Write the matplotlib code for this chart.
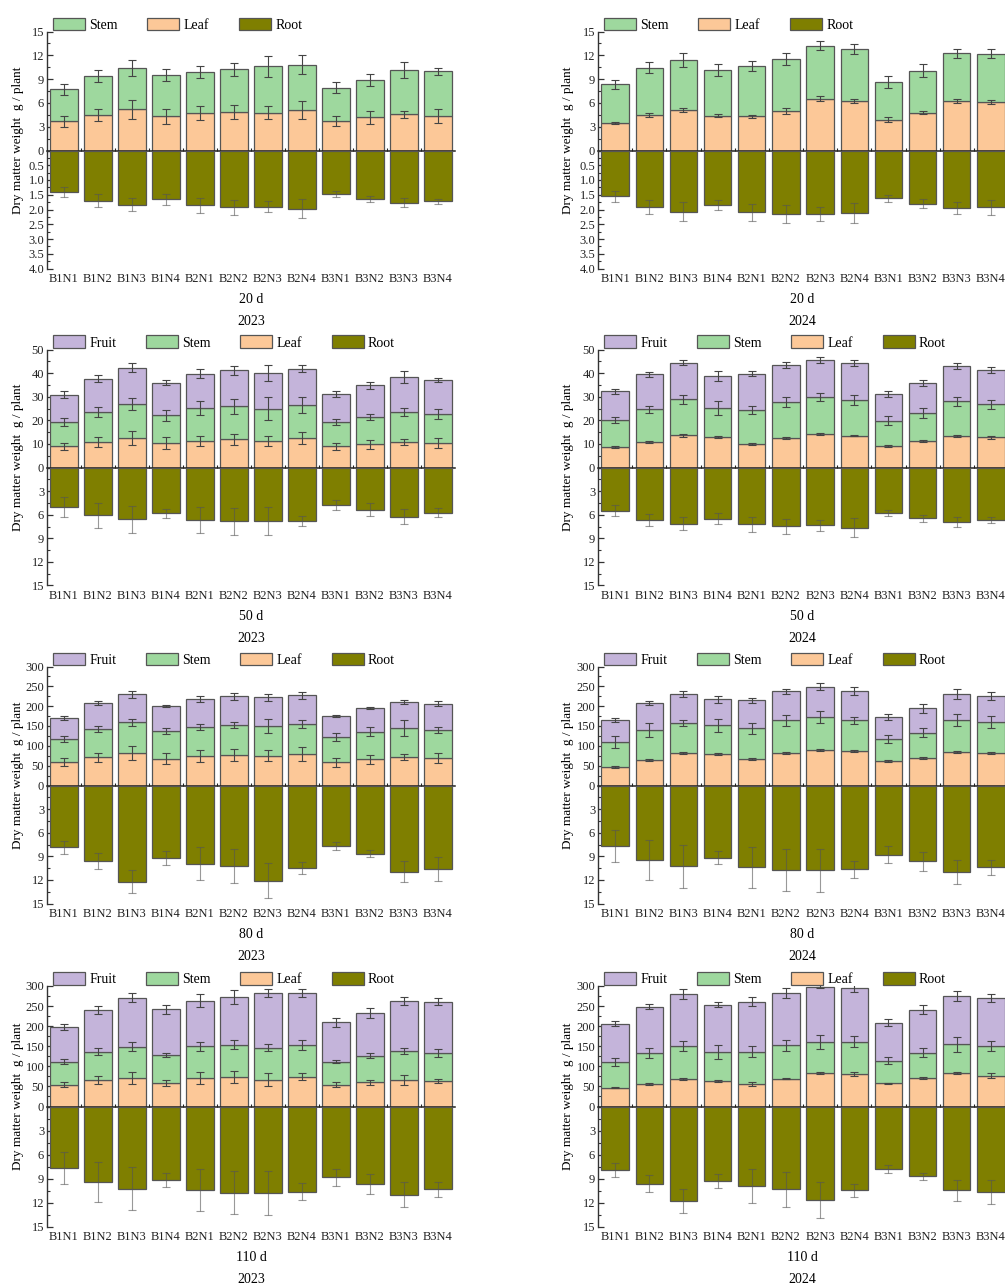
import matplotlib
matplotlib.use('Agg')
import matplotlib.pyplot as plt
from matplotlib.patches import Patch
from matplotlib.ticker import MultipleLocator, FixedLocator
import numpy as np

plt.rcParams['font.family'] = ['Liberation Serif', 'DejaVu Serif']

treatments = ['B1N1', 'B1N2', 'B1N3', 'B1N4', 'B2N1', 'B2N2', 'B2N3', 'B2N4',
              'B3N1', 'B3N2', 'B3N3', 'B3N4']

# ---------------- 2023, 20 d ----------------
leaf_2023_20 = [3.66, 4.50, 5.17, 4.29, 4.70, 4.87, 4.75, 5.08, 3.74, 4.16, 4.54, 4.33]
leaf_err_2023_20 = [0.69, 0.78, 1.20, 0.95, 0.88, 0.92, 0.80, 1.10, 0.67, 0.76, 0.44, 0.88]
stem_2023_20 = [4.07, 4.87, 5.25, 5.21, 5.22, 5.38, 5.84, 5.72, 4.16, 4.71, 5.63, 5.67]
stem_err_2023_20 = [0.69, 0.78, 1.03, 0.78, 0.76, 0.80, 1.37, 1.22, 0.69, 0.76, 0.97, 0.46]
root_2023_20 = [1.40, 1.70, 1.84, 1.66, 1.86, 1.92, 1.90, 1.97, 1.48, 1.65, 1.77, 1.72]
root_err_2023_20 = [0.17, 0.21, 0.22, 0.19, 0.26, 0.25, 0.18, 0.32, 0.11, 0.11, 0.16, 0.08]

# ---------------- 2024, 20 d ----------------
leaf_2024_20 = [3.46, 4.47, 5.14, 4.38, 4.30, 4.97, 6.53, 6.24, 3.88, 4.76, 6.24, 6.07]
leaf_err_2024_20 = [0.13, 0.30, 0.27, 0.21, 0.21, 0.34, 0.32, 0.30, 0.30, 0.19, 0.27, 0.27]
stem_2024_20 = [4.88, 5.98, 6.28, 5.78, 6.32, 6.58, 6.70, 6.57, 4.76, 5.31, 6.02, 6.15]
stem_err_2024_20 = [0.59, 0.67, 0.93, 0.76, 0.63, 0.74, 0.53, 0.65, 0.76, 0.82, 0.59, 0.61]
root_2024_20 = [1.55, 1.92, 2.07, 1.85, 2.10, 2.16, 2.14, 2.13, 1.62, 1.80, 1.95, 1.92]
root_err_2024_20 = [0.19, 0.23, 0.31, 0.17, 0.30, 0.30, 0.24, 0.34, 0.12, 0.14, 0.19, 0.25]

# ---------------- 2023, 50 d ----------------
leaf_2023_50 = [8.95, 10.80, 12.50, 10.23, 11.36, 11.93, 11.36, 12.36, 8.95, 9.94, 10.94, 10.51]
leaf_err_2023_50 = [1.49, 1.92, 2.90, 2.50, 2.10, 2.20, 2.06, 2.60, 1.56, 1.92, 1.20, 2.10]
stem_2023_50 = [10.23, 12.64, 14.35, 11.93, 13.78, 13.92, 13.64, 14.06, 10.23, 11.65, 12.50, 12.22]
stem_err_2023_50 = [1.70, 2.00, 2.40, 2.30, 2.84, 3.05, 4.90, 3.30, 1.28, 1.28, 1.70, 2.27]
fruit_2023_50 = [11.64, 14.20, 15.34, 13.78, 14.63, 15.34, 15.06, 15.48, 11.92, 13.21, 14.91, 14.34]
fruit_err_2023_50 = [1.56, 1.49, 1.92, 1.14, 2.00, 2.00, 3.50, 1.49, 1.35, 1.35, 2.63, 1.00]
root_2023_50 = [4.97, 6.04, 6.60, 5.83, 6.69, 6.86, 6.86, 6.82, 4.76, 5.36, 6.24, 5.74]
root_err_2023_50 = [1.26, 1.59, 1.71, 0.56, 1.65, 1.74, 1.78, 0.64, 0.69, 0.81, 0.96, 0.60]

# ---------------- 2024, 50 d ----------------
leaf_2024_50 = [8.68, 10.78, 13.59, 12.89, 9.94, 12.46, 14.15, 13.45, 9.10, 11.20, 13.30, 12.75]
leaf_err_2024_50 = [0.56, 0.30, 0.50, 0.50, 0.30, 0.50, 0.40, 0.30, 0.40, 0.50, 0.40, 0.50]
stem_2024_50 = [11.49, 13.87, 15.26, 12.18, 14.43, 15.13, 15.68, 15.12, 10.79, 11.91, 14.71, 14.00]
stem_err_2024_50 = [1.26, 1.54, 1.75, 3.00, 1.75, 2.10, 1.68, 2.24, 1.96, 2.10, 2.00, 1.90]
fruit_2024_50 = [12.18, 14.85, 15.55, 13.73, 15.41, 15.83, 15.83, 15.83, 11.34, 12.60, 14.99, 14.57]
fruit_err_2024_50 = [1.10, 1.10, 1.00, 2.00, 1.05, 1.20, 1.26, 1.33, 1.33, 1.33, 1.47, 1.26]
root_2024_50 = [5.48, 6.62, 7.12, 6.49, 7.21, 7.46, 7.37, 7.63, 5.73, 6.45, 6.95, 6.70]
root_err_2024_50 = [0.70, 0.76, 0.88, 0.70, 0.93, 0.97, 0.72, 1.18, 0.38, 0.44, 0.63, 0.36]

# ---------------- 2023, 80 d ----------------
leaf_2023_80 = [58.7, 71.2, 81.3, 67.9, 74.6, 77.1, 75.4, 79.6, 58.7, 66.2, 72.1, 68.7]
leaf_err_2023_80 = [10.5, 11.7, 18.0, 13.8, 14.2, 14.7, 13.8, 16.8, 10.9, 11.3, 6.7, 12.6]
stem_2023_80 = [58.6, 71.3, 78.0, 69.6, 72.9, 75.5, 74.6, 74.6, 62.8, 69.6, 72.9, 71.3]
stem_err_2023_80 = [7.1, 8.4, 8.4, 7.1, 6.7, 6.7, 17.6, 10.5, 10.5, 11.7, 19.7, 7.5]
fruit_2023_80 = [52.9, 65.4, 71.2, 62.0, 69.6, 72.0, 72.1, 73.0, 53.7, 59.5, 65.4, 66.2]
fruit_err_2023_80 = [4.2, 5.9, 8.8, 2.5, 7.5, 8.0, 9.2, 8.4, 2.1, 2.5, 5.4, 6.7]
root_2023_80 = [7.88, 9.63, 12.23, 9.25, 9.93, 10.27, 12.10, 10.48, 7.71, 8.65, 10.95, 10.65]
root_err_2023_80 = [0.83, 1.00, 1.47, 0.87, 2.09, 2.15, 2.24, 0.77, 0.47, 0.45, 1.34, 1.51]

# ---------------- 2024, 80 d ----------------
leaf_2024_80 = [46.9, 63.7, 81.3, 78.8, 67.1, 83.0, 89.7, 88.0, 61.2, 69.6, 85.5, 81.3]
leaf_err_2024_80 = [1.7, 2.5, 2.5, 2.5, 2.5, 2.5, 2.5, 2.5, 2.5, 2.5, 2.5, 2.5]
stem_2024_80 = [62.9, 76.3, 75.4, 72.9, 77.1, 81.3, 83.0, 76.3, 56.2, 62.8, 78.8, 78.8]
stem_err_2024_80 = [14.7, 18.4, 7.5, 15.9, 14.2, 13.8, 15.5, 9.6, 10.1, 11.3, 15.5, 15.5]
fruit_2024_80 = [56.2, 68.7, 73.8, 66.2, 70.4, 72.9, 76.2, 73.7, 55.3, 62.1, 66.2, 65.4]
fruit_err_2024_80 = [5.0, 5.4, 8.4, 8.8, 6.7, 6.3, 8.8, 9.2, 7.5, 10.5, 12.6, 9.2]
root_2024_80 = [7.73, 9.45, 10.29, 9.16, 10.42, 10.76, 10.76, 10.63, 8.82, 9.66, 10.97, 10.38]
root_err_2024_80 = [2.02, 2.50, 2.71, 0.88, 2.63, 2.69, 2.75, 1.09, 1.09, 1.26, 1.53, 0.97]

# ---------------- 2023, 110 d ----------------
leaf_2023_110 = [54.2, 66.7, 70.8, 59.2, 71.7, 74.2, 66.7, 74.2, 54.2, 60.0, 66.7, 64.2]
leaf_err_2023_110 = [6.7, 9.6, 14.2, 7.1, 14.6, 15.4, 16.7, 8.3, 5.8, 6.7, 12.9, 5.0]
stem_2023_110 = [57.5, 70.0, 77.5, 68.3, 78.3, 80.0, 80.0, 79.1, 57.5, 66.7, 71.6, 69.1]
stem_err_2023_110 = [6.7, 7.9, 11.3, 5.0, 11.3, 12.1, 9.2, 11.7, 3.8, 5.4, 6.7, 10.0]
fruit_2023_110 = [85.8, 104.1, 122.5, 114.2, 113.3, 118.3, 135.8, 129.2, 97.5, 106.6, 124.2, 127.5]
fruit_err_2023_110 = [7.1, 10.0, 11.7, 12.1, 16.3, 17.1, 10.0, 10.0, 11.3, 12.1, 10.8, 8.3]
root_2023_110 = [7.71, 9.46, 10.29, 9.17, 10.38, 10.79, 10.79, 10.63, 8.83, 9.71, 11.00, 10.33]
root_err_2023_110 = [2.02, 2.50, 2.69, 0.88, 2.63, 2.67, 2.73, 1.06, 1.06, 1.25, 1.54, 0.94]

# ---------------- 2024, 110 d ----------------
leaf_2024_110 = [47.2, 55.5, 67.9, 64.6, 55.5, 69.6, 82.9, 80.4, 58.0, 71.3, 82.9, 77.1]
leaf_err_2024_110 = [1.5, 2.0, 2.0, 2.5, 4.6, 2.0, 2.5, 4.6, 1.0, 2.5, 2.5, 5.4]
stem_2024_110 = [63.0, 77.1, 82.0, 70.4, 81.2, 82.8, 77.0, 81.2, 55.5, 62.9, 72.0, 72.8]
stem_err_2024_110 = [9.5, 12.8, 12.0, 17.4, 12.8, 13.3, 17.4, 12.8, 8.7, 10.4, 18.6, 12.4]
fruit_2024_110 = [96.1, 116.0, 129.3, 118.5, 124.3, 130.1, 138.1, 134.2, 95.3, 106.9, 121.0, 119.4]
fruit_err_2024_110 = [5.8, 6.6, 12.8, 6.2, 11.2, 11.6, 4.0, 9.5, 7.9, 10.4, 12.4, 9.9]
root_2024_110 = [7.96, 9.66, 11.81, 9.32, 9.95, 10.32, 11.73, 10.48, 7.79, 8.70, 10.48, 10.69]
root_err_2024_110 = [0.87, 1.04, 1.49, 0.87, 2.11, 2.18, 2.24, 0.79, 0.48, 0.44, 1.31, 1.53]

# ---------------- styling ----------------
C_FRUIT = '#C4B4DA'
C_STEM = '#9ED89E'
C_LEAF = '#FCC898'
C_ROOT = '#7F7F00'
EDGE = '#555555'
AXC = '#333333'

W, H = 1005, 1288
fig = plt.figure(figsize=(W / 100, H / 100), dpi=100)

col_x = [(47, 455), (598, 1008)]
row_y = [(31.5, 150.5, 268.5), (349.5, 467.5, 585.5),
         (666.5, 785.5, 903.5), (986.0, 1106.5, 1226.5)]

panels = [
    dict(row=0, col=0, year='2023', day='20 d', leaf=leaf_2023_20, leaf_err=leaf_err_2023_20,
         stem=stem_2023_20, stem_err=stem_err_2023_20, fruit=None, fruit_err=None,
         root=root_2023_20, root_err=root_err_2023_20, tmax=15, tstep=3, bmax=4.0, bstep=0.5),
    dict(row=0, col=1, year='2024', day='20 d', leaf=leaf_2024_20, leaf_err=leaf_err_2024_20,
         stem=stem_2024_20, stem_err=stem_err_2024_20, fruit=None, fruit_err=None,
         root=root_2024_20, root_err=root_err_2024_20, tmax=15, tstep=3, bmax=4.0, bstep=0.5),
    dict(row=1, col=0, year='2023', day='50 d', leaf=leaf_2023_50, leaf_err=leaf_err_2023_50,
         stem=stem_2023_50, stem_err=stem_err_2023_50, fruit=fruit_2023_50, fruit_err=fruit_err_2023_50,
         root=root_2023_50, root_err=root_err_2023_50, tmax=50, tstep=10, bmax=15, bstep=3),
    dict(row=1, col=1, year='2024', day='50 d', leaf=leaf_2024_50, leaf_err=leaf_err_2024_50,
         stem=stem_2024_50, stem_err=stem_err_2024_50, fruit=fruit_2024_50, fruit_err=fruit_err_2024_50,
         root=root_2024_50, root_err=root_err_2024_50, tmax=50, tstep=10, bmax=15, bstep=3),
    dict(row=2, col=0, year='2023', day='80 d', leaf=leaf_2023_80, leaf_err=leaf_err_2023_80,
         stem=stem_2023_80, stem_err=stem_err_2023_80, fruit=fruit_2023_80, fruit_err=fruit_err_2023_80,
         root=root_2023_80, root_err=root_err_2023_80, tmax=300, tstep=50, bmax=15, bstep=3),
    dict(row=2, col=1, year='2024', day='80 d', leaf=leaf_2024_80, leaf_err=leaf_err_2024_80,
         stem=stem_2024_80, stem_err=stem_err_2024_80, fruit=fruit_2024_80, fruit_err=fruit_err_2024_80,
         root=root_2024_80, root_err=root_err_2024_80, tmax=300, tstep=50, bmax=15, bstep=3),
    dict(row=3, col=0, year='2023', day='110 d', leaf=leaf_2023_110, leaf_err=leaf_err_2023_110,
         stem=stem_2023_110, stem_err=stem_err_2023_110, fruit=fruit_2023_110, fruit_err=fruit_err_2023_110,
         root=root_2023_110, root_err=root_err_2023_110, tmax=300, tstep=50, bmax=15, bstep=3),
    dict(row=3, col=1, year='2024', day='110 d', leaf=leaf_2024_110, leaf_err=leaf_err_2024_110,
         stem=stem_2024_110, stem_err=stem_err_2024_110, fruit=fruit_2024_110, fruit_err=fruit_err_2024_110,
         root=root_2024_110, root_err=root_err_2024_110, tmax=300, tstep=50, bmax=15, bstep=3),
]

x = np.arange(len(treatments))
BW = 0.8
TICK_FS = 9
EB_KW = dict(fmt='none', ecolor='#444444', elinewidth=0.8, capsize=2.8, capthick=0.8, zorder=5)


def fmt_bot(v, step):
    if step < 1:
        return f'{v:.1f}'
    return f'{int(round(v))}'


for p in panels:
    x0, x1 = col_x[p['col']]
    ytop, yzero, ybot = row_y[p['row']]
    ax_t = fig.add_axes([x0 / W, 1 - yzero / H, (x1 - x0) / W, (yzero - ytop) / H])
    ax_b = fig.add_axes([x0 / W, 1 - ybot / H, (x1 - x0) / W, (ybot - yzero) / H])
    ax_t.patch.set_alpha(0)
    ax_b.patch.set_alpha(0)

    leaf = np.array(p['leaf'])
    stem = np.array(p['stem'])
    # upper stacked bars
    ax_t.bar(x, leaf, BW, color=C_LEAF, edgecolor=EDGE, linewidth=0.9, zorder=2)
    ax_t.bar(x, stem, BW, bottom=leaf, color=C_STEM, edgecolor=EDGE, linewidth=0.9, zorder=2)
    handles = []
    if p['fruit'] is not None:
        fruit = np.array(p['fruit'])
        ax_t.bar(x, fruit, BW, bottom=leaf + stem, color=C_FRUIT, edgecolor=EDGE, linewidth=0.9, zorder=2)
        ax_t.errorbar(x, leaf + stem + fruit, yerr=p['fruit_err'], **EB_KW)
        handles.append(Patch(facecolor=C_FRUIT, edgecolor=EDGE, linewidth=0.9, label='Fruit'))
    ax_t.errorbar(x, leaf, yerr=p['leaf_err'], **EB_KW)
    ax_t.errorbar(x, leaf + stem, yerr=p['stem_err'], **EB_KW)
    handles += [Patch(facecolor=C_STEM, edgecolor=EDGE, linewidth=0.9, label='Stem'),
                Patch(facecolor=C_LEAF, edgecolor=EDGE, linewidth=0.9, label='Leaf'),
                Patch(facecolor=C_ROOT, edgecolor=EDGE, linewidth=0.9, label='Root')]

    # lower root bars (downwards)
    root = np.array(p['root'])
    ax_b.bar(x, root, BW, color=C_ROOT, edgecolor=EDGE, linewidth=0.9, zorder=2)
    ax_b.errorbar(x, root, yerr=p['root_err'], fmt='none', ecolor='#555555', alpha=0.6,
                  elinewidth=0.8, capsize=2.8, capthick=0.8, zorder=5)

    for ax in (ax_t, ax_b):
        ax.set_xlim(-0.5, 11.5)
        ax.spines['top'].set_visible(False)
        ax.spines['right'].set_visible(False)
        ax.spines['left'].set_color(AXC)
        ax.spines['left'].set_linewidth(1.0)

    ax_t.set_ylim(0, p['tmax'])
    ax_t.yaxis.set_major_locator(MultipleLocator(p['tstep']))
    ax_t.yaxis.set_minor_locator(MultipleLocator(p['tstep'] / 2))
    ax_t.spines['bottom'].set_color('#222222')
    ax_t.spines['bottom'].set_linewidth(1.1)
    ax_t.spines['bottom'].set_zorder(6)
    ax_t.set_xticks(x)
    ax_t.set_xticks(x[:-1] + 0.5, minor=True)
    ax_t.tick_params(axis='x', which='major', direction='in', length=4, width=1.0,
                     color='#222222', labelbottom=False)
    ax_t.tick_params(axis='x', which='minor', direction='in', length=2, width=0.8, color='#222222')
    ax_t.tick_params(axis='y', which='major', direction='in', length=4, width=0.9, color=AXC,
                     labelsize=TICK_FS, pad=2, labelcolor='#222222')
    ax_t.tick_params(axis='y', which='minor', direction='in', length=2.5, width=0.8, color=AXC)

    ax_b.set_ylim(p['bmax'], 0)
    bt = np.arange(p['bstep'], p['bmax'] + 1e-9, p['bstep'])
    ax_b.yaxis.set_major_locator(FixedLocator(bt))
    ax_b.set_yticklabels([fmt_bot(v, p['bstep']) for v in bt])
    ax_b.yaxis.set_minor_locator(MultipleLocator(p['bstep'] / 2))
    ax_b.spines['bottom'].set_visible(False)
    ax_b.set_xticks(x)
    ax_b.set_xticklabels(treatments)
    ax_b.tick_params(axis='x', which='both', length=0, pad=3, labelsize=TICK_FS, labelcolor='#222222')
    ax_b.tick_params(axis='y', which='major', direction='in', length=4, width=0.9, color=AXC,
                     labelsize=TICK_FS, pad=2, labelcolor='#222222')
    ax_b.tick_params(axis='y', which='minor', direction='in', length=2.5, width=0.8, color=AXC)

    # legend
    lx = x0 + 6
    ly = ytop - 14
    ax_t.legend(handles=handles, loc='upper left', bbox_to_anchor=(lx / W, 1 - ly / H),
                bbox_transform=fig.transFigure, ncol=len(handles), frameon=False,
                borderpad=0, borderaxespad=0, handlelength=2.3, handleheight=1.05,
                handletextpad=0.3, columnspacing=2.15, fontsize=10)

    # labels
    cx = (x0 + x1) / 2 if p['col'] == 0 else 802
    fig.text(cx / W, 1 - (ybot + 31) / H, p['day'], ha='center', va='center', fontsize=10)
    fig.text(cx / W, 1 - (ybot + 53) / H, p['year'], ha='center', va='center', fontsize=10)
    ylx = 18 if p['col'] == 0 else 568
    fig.text(ylx / W, 1 - (yzero - 10) / H, 'Dry matter weight  g / plant', rotation=90,
             ha='center', va='center', fontsize=9.5)

fig.savefig('out.png', dpi=100)
